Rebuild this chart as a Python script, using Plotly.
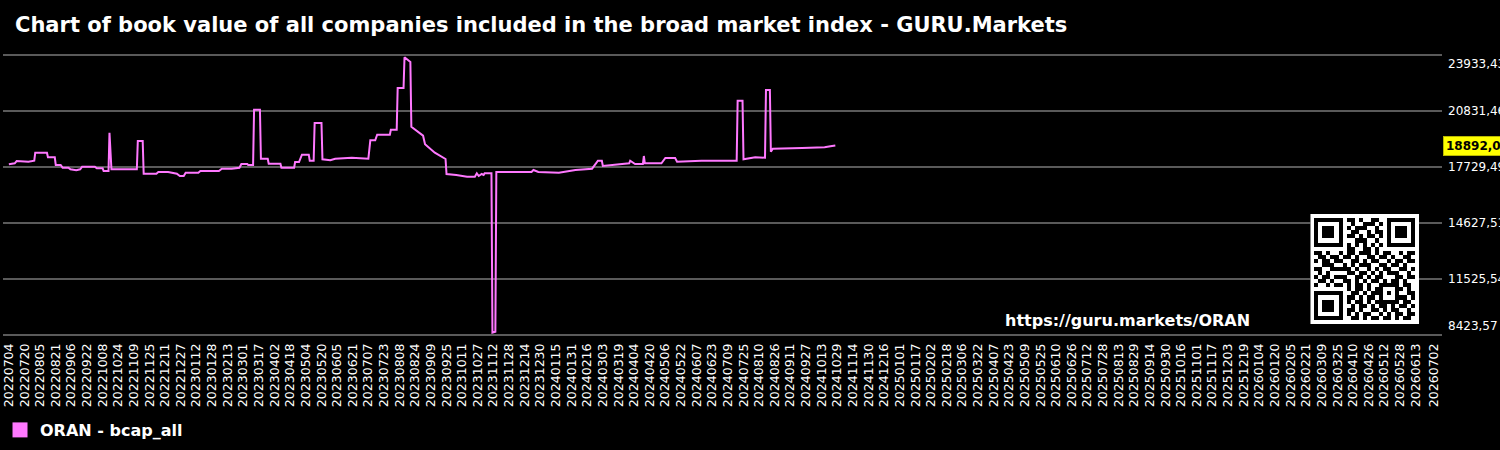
import pandas as pd
import plotly.graph_objects as go

# ---------------- data ----------------
DATES = ["2022-07-04","2022-07-10","2022-07-12","2022-07-24","2022-07-30","2022-07-31","2022-08-12","2022-08-13",
         "2022-08-20","2022-08-21","2022-08-26","2022-08-28","2022-09-03","2022-09-05","2022-09-11","2022-09-15",
         "2022-09-17","2022-09-30","2022-10-02","2022-10-08","2022-10-09","2022-10-14","2022-10-15","2022-10-17",
         "2022-11-12","2022-11-13","2022-11-18","2022-11-19","2022-12-02","2022-12-04","2022-12-14","2022-12-23",
         "2022-12-26","2022-12-30","2023-01-01","2023-01-14","2023-01-16","2023-02-04","2023-02-07","2023-02-17",
         "2023-02-25","2023-02-27","2023-03-05","2023-03-06","2023-03-11","2023-03-12","2023-03-18","2023-03-19",
         "2023-03-26","2023-03-27","2023-04-08","2023-04-09","2023-04-22","2023-04-23","2023-04-27","2023-04-30",
         "2023-05-07","2023-05-08","2023-05-12","2023-05-13","2023-05-20","2023-05-21","2023-05-29","2023-06-03",
         "2023-06-20","2023-07-07","2023-07-09","2023-07-14","2023-07-16","2023-07-29","2023-07-30","2023-08-05",
         "2023-08-06","2023-08-12","2023-08-13","2023-08-19","2023-08-20","2023-09-01","2023-09-03","2023-09-13",
         "2023-09-24","2023-09-25","2023-10-05","2023-10-16","2023-10-24","2023-10-26","2023-10-28","2023-10-31",
         "2023-11-02","2023-11-03","2023-11-10","2023-11-11","2023-11-14","2023-11-15","2023-12-21","2023-12-23",
         "2023-12-28","2024-01-18","2024-02-04","2024-02-21","2024-02-27","2024-03-02","2024-03-03","2024-03-19",
         "2024-03-30","2024-03-31","2024-04-05","2024-04-13","2024-04-14","2024-04-15","2024-05-02","2024-05-06",
         "2024-05-16","2024-05-18","2024-05-30","2024-06-12","2024-07-18","2024-07-19","2024-07-24","2024-07-25",
         "2024-08-06","2024-08-16","2024-08-17","2024-08-21","2024-08-22","2024-08-24","2024-09-23","2024-10-16",
         "2024-10-22","2024-10-27"]

VALUES = [17851,17907,18034,17995,18051,18494,18494,18239,
          18239,17813,17813,17663,17663,17574,17519,17574,
          17718,17718,17630,17630,17480,17480,19602,17574,
          17574,19142,19142,17331,17331,17425,17425,17331,
          17203,17203,17386,17386,17480,17480,17608,17608,
          17663,17868,17868,17813,17813,20876,20876,18162,
          18162,17885,17885,17663,17663,17979,17979,18383,
          18383,18051,18051,20139,20139,18128,18073,18162,
          18217,18162,19181,19181,19491,19491,19768,19768,
          22078,22078,23778,23518,19934,19436,18959,18494,
          18145,17314,17259,17165,17165,17353,17203,17314,
          17259,17353,17353,8523,8579,17425,17425,17536,
          17425,17386,17536,17608,18051,18051,17757,17868,
          17907,18051,17868,17868,18311,17907,17907,18200,
          18200,17995,18034,18051,18051,21374,21374,18128,
          18239,18217,21967,21967,18549,18716,18754,18793,
          18849,18892.0]

SERIES_NAME = "ORAN - bcap_all"
TITLE = "Chart of book value of all companies included in the broad market index - GURU.Markets"
URL_TEXT = "https://guru.markets/ORAN"

Y_TICKS = [8423.57, 11525.54, 14627.51, 17729.49, 20831.46, 23933.43]
Y_TICK_TEXT = ["8423,57", "11525,54", "14627,51", "17729,49", "20831,46", "23933,43"]

TICK_DATES = list(pd.date_range("2022-07-04", "2026-06-13", freq="16D")) + [pd.Timestamp("2026-07-02")]
TICK_TEXT = [d.strftime("%Y%m%d") for d in TICK_DATES]

X_RANGE = ["2022-06-28", "2026-07-10"]

QR_ROWS = [
    "1111111011010011001111111",
    "1000001001001110101000001",
    "1011101010111001001011101",
    "1011101001100101101011101",
    "1011101011010110101011101",
    "1000001000111001001000001",
    "1111111010101010101111111",
    "0000000011001101000000000",
    "1101001011011101011001011",
    "0110110110100110110100110",
    "1011011001101011001011011",
    "0011100101011100110110100",
    "1100111110100101011001101",
    "0101000011011010101110010",
    "1011011100110101100011011",
    "0110100110101011010110100",
    "1001011010110100111110110",
    "0000000010110101100011010",
    "1111111001101011101010011",
    "1000001011010110100011101",
    "1011101010110101111110110",
    "1011101001011010110101101",
    "1011101011010011010110010",
    "1000001010101100101011011",
    "1111111001101011011010110",
]

LINE_COLOR = "#ff78ff"
W, H = 1500, 450
M_L, M_R, M_T, M_B = 0, 58, 52, 114
PW = W - M_L - M_R
PH = H - M_T - M_B

# pixel rows of the first and last gridlines (layout placement)
GRID_TOP_PX, GRID_BOTTOM_PX = 54.5, 334.5
_per_px = (Y_TICKS[-1] - Y_TICKS[0]) / (GRID_BOTTOM_PX - GRID_TOP_PX)
Y_RANGE = [Y_TICKS[0] - (H - M_B - GRID_BOTTOM_PX) * _per_px,
           Y_TICKS[-1] + (GRID_TOP_PX - M_T) * _per_px]


def px_x(p):
    return (p - M_L) / PW


def px_y(p):
    return (H - M_B - p) / PH


fig = go.Figure()

fig.add_trace(go.Scatter(
    x=pd.to_datetime(DATES), y=VALUES, mode="lines",
    line=dict(color=LINE_COLOR, width=2), showlegend=False, name=SERIES_NAME,
))
fig.add_trace(go.Scatter(
    x=[None], y=[None], mode="markers", name=SERIES_NAME,
    marker=dict(symbol="square", size=15, color=LINE_COLOR), showlegend=True,
))

# QR code (decorative) on its own axes
qr = [[0] * (len(QR_ROWS[0]) + 2)]
for r in QR_ROWS:
    qr.append([0] + [int(c) for c in r] + [0])
qr.append([0] * (len(QR_ROWS[0]) + 2))
fig.add_trace(go.Heatmap(
    z=qr, xaxis="x2", yaxis="y2", colorscale=[[0, "#ffffff"], [1, "#000000"]],
    zmin=0, zmax=1, showscale=False, hoverinfo="skip", xgap=0, ygap=0,
))

annotations = []
for i, (v, t) in enumerate(zip(Y_TICKS, Y_TICK_TEXT)):
    shift = 0
    if i == 0:
        shift = 9
    elif i == len(Y_TICKS) - 1:
        shift = -9
    annotations.append(dict(
        x=px_x(1446), xref="paper", y=v, yref="y", text=t, showarrow=False,
        xanchor="left", yanchor="middle", yshift=shift,
        font=dict(family="DejaVu Sans", size=12, color="#ffffff"),
    ))

last_val = VALUES[-1]
annotations.append(dict(
    x=px_x(1443), xref="paper", y=last_val, yref="y",
    text="<b>" + f"{last_val:.2f}".replace(".", ",") + "</b>", showarrow=False,
    xanchor="left", yanchor="middle", bgcolor="#ffff00", bordercolor="#b8b800",
    borderwidth=1, borderpad=2,
    font=dict(family="DejaVu Sans", size=12, color="#000000"),
))

annotations.append(dict(
    x=px_x(1252), xref="paper", y=px_y(320), yref="paper", text="<b>" + URL_TEXT + "</b>",
    showarrow=False, xanchor="right", yanchor="middle",
    font=dict(family="DejaVu Sans", size=16, color="#ffffff"),
))

fig.update_layout(
    width=W, height=H,
    margin=dict(l=M_L, r=M_R, t=M_T, b=M_B, pad=0),
    paper_bgcolor="#000000", plot_bgcolor="#000000",
    title=dict(
        text="<b>" + TITLE + "</b>", x=15 / W, xref="container", xanchor="left",
        y=1 - 25 / H, yref="container", yanchor="middle",
        font=dict(family="DejaVu Sans", size=21, color="#ffffff"),
    ),
    xaxis=dict(
        type="date", range=X_RANGE, tickvals=TICK_DATES, ticktext=TICK_TEXT,
        tickangle=-90, tickfont=dict(family="DejaVu Sans", size=12.5, color="#ffffff"),
        showgrid=False, zeroline=False, showline=False, ticks="",
        ticklabeloverflow="allow", ticklabelstandoff=4,
    ),
    yaxis=dict(
        range=Y_RANGE, tickvals=Y_TICKS, showticklabels=False,
        side="right", showgrid=True, gridcolor="#5a5a5a", gridwidth=2,
        zeroline=False, showline=False, ticks="",
    ),
    xaxis2=dict(domain=[px_x(1310), px_x(1419)], anchor="y2", visible=False,
                fixedrange=True),
    yaxis2=dict(domain=[px_y(324), px_y(214)], anchor="x2", visible=False,
                autorange="reversed", fixedrange=True),
    showlegend=True,
    legend=dict(
        orientation="h", x=px_x(-3), xanchor="left", y=px_y(430), yanchor="middle",
        font=dict(family="DejaVu Sans", size=16, color="#ffffff", weight="bold"),
        bgcolor="rgba(0,0,0,0)",
    ),
    annotations=annotations,
)

fig.write_html("out.html")
